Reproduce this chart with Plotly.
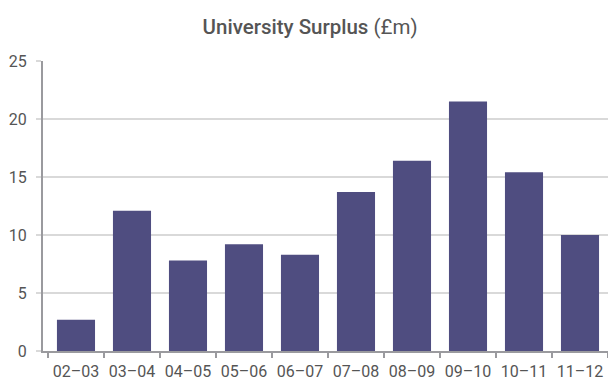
import plotly.graph_objects as go

categories = ["02–03", "03–04", "04–05", "05–06", "06–07",
              "07–08", "08–09", "09–10", "10–11", "11–12"]
surplus = [2.7, 12.1, 7.8, 9.2, 8.3, 13.7, 16.4, 21.5, 15.4, 10.0]
y_ticks = [0, 5, 10, 15, 20, 25]

fig = go.Figure(go.Bar(
    x=categories, y=surplus,
    marker=dict(color="#4f4d80", line=dict(width=0)),
    hoverinfo="x+y",
))

fig.update_layout(
    width=608, height=385,
    margin=dict(l=43, r=0, t=61, b=34),
    paper_bgcolor="white", plot_bgcolor="white",
    bargap=0.32,
    showlegend=False,
    font=dict(family="Roboto, sans-serif", size=16, color="#555555"),
    title=dict(
        text='<span style="font-weight:500">University Surplus</span> (£m)',
        x=0.51, xref="container", xanchor="center",
        y=1 - 27 / 385, yref="container", yanchor="middle",
        font=dict(family="Roboto, sans-serif", size=20.5, color="#555555", weight=400),
    ),
)

fig.update_xaxes(
    type="category",
    range=[-0.589, 9.5],
    automargin=False,
    tickangle=0,
    showline=True, linecolor="#9a9a9e", linewidth=2,
    ticks="outside", tickson="boundaries", ticklen=5, tickcolor="#9a9a9e", tickwidth=2,
    showgrid=False,
    tickfont=dict(size=16, color="#555555"),
    ticklabelstandoff=5,
)
fig.update_yaxes(
    range=[0, 25],
    automargin=False,
    tickvals=y_ticks,
    showline=True, linecolor="#9a9a9e", linewidth=2,
    showgrid=True, gridcolor="#d9d9d9", gridwidth=2,
    ticks="outside", ticklen=5, tickcolor="#d9d9d9", tickwidth=2,
    zeroline=False,
    tickfont=dict(size=16, color="#555555"),
    ticklabelstandoff=6,
)

fig.write_html("out.html")
